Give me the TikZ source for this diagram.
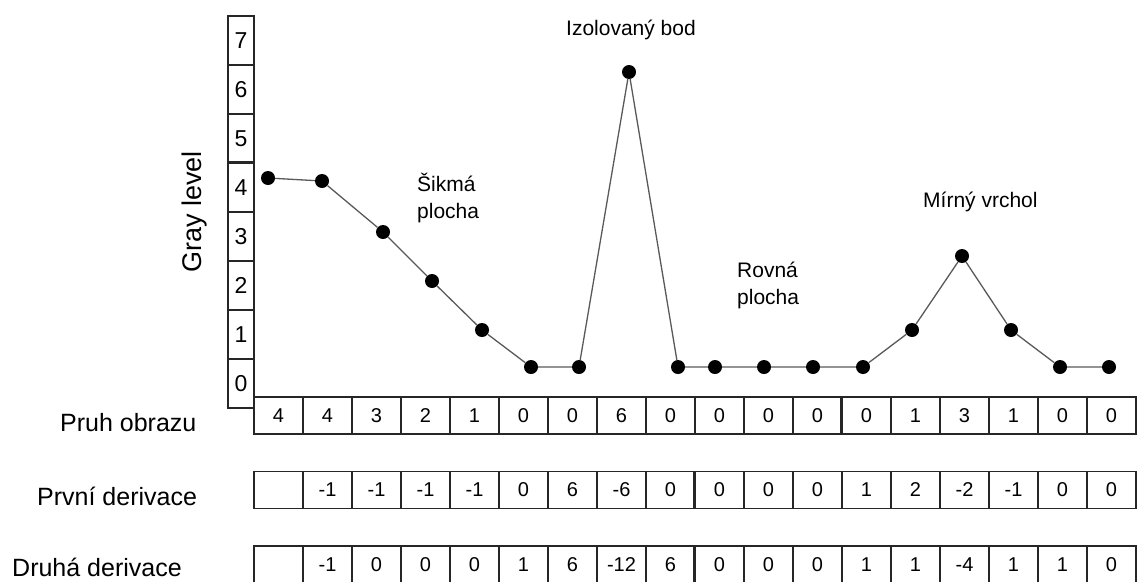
\documentclass[tikz,border=0pt]{standalone}
\usepackage{fontspec}
\setmainfont{Liberation Sans}
\usepackage{tikz}
\usetikzlibrary{positioning}

\begin{document}
\begin{tikzpicture}[x=1pt, y=-1pt,
    cell/.style={draw=black!85, line width=1.2pt, minimum width=49pt, minimum height=37pt, inner sep=0pt, font=\fontsize{20}{24}\selectfont},
    lvl/.style={draw=black!85, line width=1.2pt, minimum width=26pt, minimum height=49pt, inner sep=0pt, font=\fontsize{23}{26}\selectfont},
    dot/.style={circle, fill=black, minimum size=14pt, inner sep=0pt},
    wire/.style={draw=black!65, line width=1.3pt},
    heavy/.style={draw=black!85, line width=2.6pt},
    rowlbl/.style={anchor=base west, inner sep=0pt, font=\fontsize{25}{30}\selectfont},
    note/.style={anchor=base west, inner sep=0pt, font=\fontsize{21}{27}\selectfont, align=left}]
                \useasboundingbox (0,0) rectangle (1139,581);

                % gray level scale
                \node[lvl] (g7) at (241, 40.5) {7};
                \node[lvl] (g6) at (241, 89.5) {6};
                \node[lvl] (g5) at (241, 138.5) {5};
                \node[lvl] (g4) at (241, 187.5) {4};
                \node[lvl] (g3) at (241, 236.5) {3};
                \node[lvl] (g2) at (241, 285.5) {2};
                \node[lvl] (g1) at (241, 334.5) {1};
                \node[lvl] (g0) at (241, 383.5) {0};
                \draw[heavy] (g4.north west) -- (g4.north east);
                \node[rotate=90, font=\fontsize{27}{30}\selectfont] (gray) at (195, 212) {Gray level};

                % row labels
                \node[rowlbl] (pruh) at (60, 431) {Pruh obrazu};
                \node[rowlbl] (prvni) at (37, 505) {První derivace};
                \node[rowlbl] (druha) at (12, 576) {Druhá derivace};

                % Pruh obrazu
                \node[cell] (r1c1) at (278.5, 415.5) {4};
                \node[cell] (r1c2) at (327.5, 415.5) {4};
                \node[cell] (r1c3) at (376.5, 415.5) {3};
                \node[cell] (r1c4) at (425.5, 415.5) {2};
                \node[cell] (r1c5) at (474.5, 415.5) {1};
                \node[cell] (r1c6) at (523.5, 415.5) {0};
                \node[cell] (r1c7) at (572.5, 415.5) {0};
                \node[cell] (r1c8) at (621.5, 415.5) {6};
                \node[cell] (r1c9) at (670.5, 415.5) {0};
                \node[cell] (r1c10) at (719.5, 415.5) {0};
                \node[cell] (r1c11) at (768.5, 415.5) {0};
                \node[cell] (r1c12) at (817.5, 415.5) {0};
                \node[cell] (r1c13) at (866.5, 415.5) {0};
                \node[cell] (r1c14) at (915.5, 415.5) {1};
                \node[cell] (r1c15) at (964.5, 415.5) {3};
                \node[cell] (r1c16) at (1013.5, 415.5) {1};
                \node[cell] (r1c17) at (1062.5, 415.5) {0};
                \node[cell] (r1c18) at (1111.5, 415.5) {0};
                \draw[heavy] (r1c13.north west) -- (r1c13.south west);

                % První derivace
                \node[cell] (r2c1) at (278.5, 490) {};
                \node[cell] (r2c2) at (327.5, 490) {-1};
                \node[cell] (r2c3) at (376.5, 490) {-1};
                \node[cell] (r2c4) at (425.5, 490) {-1};
                \node[cell] (r2c5) at (474.5, 490) {-1};
                \node[cell] (r2c6) at (523.5, 490) {0};
                \node[cell] (r2c7) at (572.5, 490) {6};
                \node[cell] (r2c8) at (621.5, 490) {-6};
                \node[cell] (r2c9) at (670.5, 490) {0};
                \node[cell] (r2c10) at (719.5, 490) {0};
                \node[cell] (r2c11) at (768.5, 490) {0};
                \node[cell] (r2c12) at (817.5, 490) {0};
                \node[cell] (r2c13) at (866.5, 490) {1};
                \node[cell] (r2c14) at (915.5, 490) {2};
                \node[cell] (r2c15) at (964.5, 490) {-2};
                \node[cell] (r2c16) at (1013.5, 490) {-1};
                \node[cell] (r2c17) at (1062.5, 490) {0};
                \node[cell] (r2c18) at (1111.5, 490) {0};
                \draw[heavy] (r2c10.north west) -- (r2c10.south west);

                % Druha derivace
                \node[cell] (r3c1) at (278.5, 564.5) {};
                \node[cell] (r3c2) at (327.5, 564.5) {-1};
                \node[cell] (r3c3) at (376.5, 564.5) {0};
                \node[cell] (r3c4) at (425.5, 564.5) {0};
                \node[cell] (r3c5) at (474.5, 564.5) {0};
                \node[cell] (r3c6) at (523.5, 564.5) {1};
                \node[cell] (r3c7) at (572.5, 564.5) {6};
                \node[cell] (r3c8) at (621.5, 564.5) {-12};
                \node[cell] (r3c9) at (670.5, 564.5) {6};
                \node[cell] (r3c10) at (719.5, 564.5) {0};
                \node[cell] (r3c11) at (768.5, 564.5) {0};
                \node[cell] (r3c12) at (817.5, 564.5) {0};
                \node[cell] (r3c13) at (866.5, 564.5) {1};
                \node[cell] (r3c14) at (915.5, 564.5) {1};
                \node[cell] (r3c15) at (964.5, 564.5) {-4};
                \node[cell] (r3c16) at (1013.5, 564.5) {1};
                \node[cell] (r3c17) at (1062.5, 564.5) {1};
                \node[cell] (r3c18) at (1111.5, 564.5) {0};
                \draw[heavy] (r3c10.north west) -- (r3c10.south west);

                % profile
                \node[dot] (d1) at (268, 178) {};
                \node[dot] (d2) at (322, 181) {};
                \node[dot] (d3) at (383, 232) {};
                \node[dot] (d4) at (432, 281) {};
                \node[dot] (d5) at (482, 330) {};
                \node[dot] (d6) at (531, 367) {};
                \node[dot] (d7) at (579, 367) {};
                \node[dot] (d8) at (629, 72) {};
                \node[dot] (d9) at (678, 367) {};
                \node[dot] (d10) at (715, 367) {};
                \node[dot] (d11) at (764, 367) {};
                \node[dot] (d12) at (813, 367) {};
                \node[dot] (d13) at (863, 367) {};
                \node[dot] (d14) at (912, 330) {};
                \node[dot] (d15) at (962, 256) {};
                \node[dot] (d16) at (1011, 330) {};
                \node[dot] (d17) at (1060, 367) {};
                \node[dot] (d18) at (1109, 367) {};

                \draw[wire] (d1) -- (d2) -- (d3) -- (d4) -- (d5) -- (d6) -- (d7) -- (d8) -- (d9)
                    -- (d10) -- (d11) -- (d12) -- (d13) -- (d14) -- (d15) -- (d16) -- (d17) -- (d18);

                % annotations
                \node[note] (sikma) at (417, 218) {Šikmá\\plocha};
                \node[note] (izol) at (566, 35) {Izolovaný bod};
                \node[note] (rovna) at (737, 304) {Rovná\\plocha};
                \node[note] (vrchol) at (923, 207) {Mírný vrchol};
            \end{tikzpicture}
\end{document}
